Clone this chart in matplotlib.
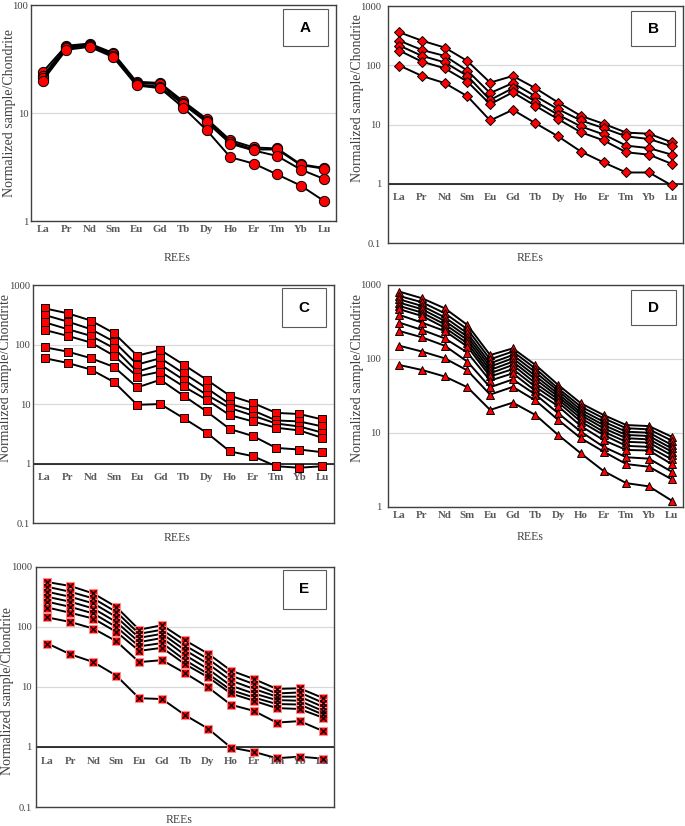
import matplotlib
matplotlib.use("Agg")
import matplotlib.pyplot as plt
from matplotlib.patches import Rectangle
from matplotlib.ticker import FixedLocator, FixedFormatter, NullLocator

plt.rcParams["font.family"] = ["Liberation Serif", "DejaVu Serif"]

REE = ["La", "Pr", "Nd", "Sm", "Eu", "Gd", "Tb", "Dy", "Ho", "Er", "Tm", "Yb", "Lu"]

# chondrite-normalised values
A_SERIES = [
    [24, 42, 44, 36, 19.5, 19, 12.8, 8.8, 5.6, 4.8, 4.7, 3.35, 3.1],
    [22, 41, 43, 35, 19, 18.5, 12.4, 8.5, 5.4, 4.6, 4.6, 3.3, 3.05],
    [21, 40, 42, 34, 18.5, 17.5, 12, 8.2, 5.2, 4.5, 4.0, 3.0, 2.45],
    [20, 38.5, 41, 33, 18, 17, 11.2, 6.9, 3.9, 3.4, 2.7, 2.13, 1.53],
]
B_SERIES = [
    [360, 260, 199, 118, 51, 66, 41, 23.5, 14, 10.3, 7.3, 7.0, 5.0],
    [260, 181, 144, 81, 34, 50, 30, 18.1, 11.7, 8.7, 6.3, 5.7, 4.3],
    [215, 144, 112, 66, 26, 41, 24.4, 14.6, 9.3, 6.8, 4.4, 4.0, 3.1],
    [177, 115, 89, 53, 22, 35, 20.6, 12.3, 7.4, 5.4, 3.4, 3.1, 2.17],
    [99, 66, 50, 30, 11.7, 17.7, 10.5, 6.3, 3.5, 2.29, 1.55, 1.55, 0.94],
]
C_SERIES = [
    [406, 335, 253, 155, 65, 81, 46, 25.6, 13.8, 10.4, 7.1, 6.8, 5.5],
    [314, 243, 181, 112, 46, 59, 33, 18.5, 10, 7.8, 5.3, 5.1, 4.2],
    [237, 181, 140, 87, 35, 46, 25.6, 14.3, 8.6, 6.4, 4.7, 4.2, 3.3],
    [176, 140, 108, 65, 29, 35, 19.8, 11.8, 6.5, 5.1, 4.0, 3.6, 2.7],
    [90, 76, 59, 42, 19, 25.6, 13.8, 7.5, 3.8, 2.9, 1.83, 1.72, 1.55],
    [59, 49, 38, 23.4, 9.7, 10, 5.8, 3.3, 1.6, 1.33, 0.9, 0.85, 0.9],
]
D_SERIES = [
    [813, 661, 484, 288, 113, 139, 83, 44.6, 25.2, 17.5, 12.8, 12.4, 8.9],
    [710, 584, 415, 252, 99, 126, 74, 40, 22.7, 15.8, 11.6, 11.2, 7.9],
    [640, 520, 366, 222, 87.5, 113, 66, 37, 20.5, 14.2, 10.4, 10.1, 6.9],
    [577, 470, 327, 200, 79, 102, 59, 33.7, 18.8, 12.8, 9.4, 9.1, 6.2],
    [520, 423, 294, 181, 71, 92, 53, 31, 17.4, 11.6, 8.5, 8.2, 5.6],
    [470, 381, 265, 163, 64, 83, 47, 28.5, 15.8, 10.4, 7.6, 7.4, 5.0],
    [394, 310, 239, 147, 58, 73, 42, 26, 14.2, 9.4, 6.7, 6.5, 4.4],
    [310, 247, 190, 122, 51, 64, 37, 23, 12.4, 8.0, 5.9, 5.8, 3.8],
    [239, 196, 151, 92, 41.5, 53, 33, 18.5, 10.4, 6.5, 4.7, 4.5, 3.0],
    [151, 126, 102, 70, 33, 42, 27.5, 15, 8.5, 5.6, 3.8, 3.5, 2.37],
    [83, 71, 58, 41.5, 20.5, 25.7, 17.5, 9.4, 5.3, 3.06, 2.1, 1.9, 1.22],
]
E_SERIES = [
    [560, 481, 362, 216, 90, 107, 60, 36, 18.8, 13.6, 9.3, 9.5, 6.6],
    [467, 385, 299, 178, 77, 90, 49, 29.5, 15.5, 11.2, 7.8, 8.1, 5.5],
    [385, 318, 247, 147, 66, 77, 41, 24.4, 12.8, 9.3, 6.9, 6.9, 4.7],
    [318, 263, 203, 121, 56, 65.5, 34, 20, 10.5, 7.8, 6.05, 5.9, 4.0],
    [263, 216, 168, 100, 47.5, 54, 28, 16.6, 8.9, 6.7, 5.2, 5.1, 3.5],
    [211, 172, 138, 83, 40, 45, 24, 14.6, 7.8, 5.9, 4.45, 4.3, 3.1],
    [144, 121, 94, 58, 26, 28, 17, 9.9, 5.06, 4.0, 2.55, 2.7, 1.86],
    [53, 35, 26, 15.5, 6.5, 6.3, 3.4, 2.03, 0.98, 0.83, 0.65, 0.69, 0.64],
]

GRAY = "#404040"
LABEL_GRAY = "#595959"
RED = "#ff0000"

fig = plt.figure(figsize=(6.85, 8.26), dpi=100)


def draw_panel(rect, series, letter, ylim, marker, inside_labels,
               box, ylab_xy, xlab_y, ypad):
    ax = fig.add_axes(rect)
    x = list(range(len(REE)))
    for s in series:
        if marker == "sx":
            ax.plot(x, s, color="black", lw=1.4, marker="s", ms=6.3,
                    mfc=RED, mec="#ff8c8c", mew=0.8, zorder=3)
            ax.plot(x, s, ls="none", marker="x", ms=4.2, color="black",
                    mew=0.9, zorder=4)
        else:
            size = {"o": 7.4, "D": 4.7, "s": 6.4, "^": 5.7}[marker]
            ax.plot(x, s, color="black", lw=1.4, marker=marker, ms=size,
                    mfc=RED, mec="black", mew=0.7, zorder=3)

    ax.set_yscale("log")
    ax.set_ylim(*ylim)
    ax.set_xlim(-0.5, len(REE) - 0.5)
    ticks = [t for t in (0.1, 1, 10, 100, 1000) if ylim[0] <= t <= ylim[1]]
    ax.yaxis.set_major_locator(FixedLocator(ticks))
    ax.yaxis.set_major_formatter(FixedFormatter([f"{t:g}" for t in ticks]))
    ax.yaxis.set_minor_locator(NullLocator())
    ax.grid(axis="y", color="#d9d9d9", lw=0.9)
    ax.set_axisbelow(True)
    ax.tick_params(axis="y", length=0, pad=ypad, labelsize=7.6, labelcolor=GRAY)

    if inside_labels:
        ax.axhline(1, color="black", lw=1.1, zorder=2)
        ax.set_xticks([])
        for i, lab in enumerate(REE):
            ax.annotate(lab, (i, 1), xytext=(0, -7), textcoords="offset points",
                        ha="center", va="top", fontsize=7.8, fontweight="bold",
                        color=LABEL_GRAY)
    else:
        ax.set_xticks(x)
        ax.set_xticklabels(REE, fontsize=7.8, fontweight="bold", color=LABEL_GRAY)
        ax.tick_params(axis="x", length=0, pad=3)

    for sp in ax.spines.values():
        sp.set_color(GRAY)
        sp.set_linewidth(1.0)

    ax.text(ylab_xy[0], ylab_xy[1], "Normalized sample/Chondrite",
            transform=ax.transAxes, rotation=90, ha="center", va="center",
            fontsize=10, color=GRAY)
    ax.text(0.48, xlab_y, "REEs", transform=ax.transAxes, ha="center",
            va="center", fontsize=8.5, color=GRAY)

    # panel letter in a small box, top right
    bx, by, bw, bh = box
    ax.add_patch(Rectangle((bx, by), bw, bh, transform=ax.transAxes,
                           fc="white", ec=LABEL_GRAY, lw=0.8, zorder=5))
    ax.text(bx + bw / 2, by + bh / 2, letter, transform=ax.transAxes,
            ha="center", va="center", fontsize=11, fontweight="bold",
            family="Liberation Sans", color="black", zorder=6)
    return ax


draw_panel([0.0453, 0.7324, 0.445, 0.2615], A_SERIES, "A", (1, 100), "o", False,
           (0.826, 0.81, 0.148, 0.171), (-0.072, 0.5), -0.171, 2)
draw_panel([0.5664, 0.7058, 0.4307, 0.2869], B_SERIES, "B", (0.1, 1000), "D", True,
           (0.824, 0.831, 0.149, 0.148), (-0.102, 0.61), -0.063, 5)
draw_panel([0.0482, 0.3668, 0.4394, 0.2881], C_SERIES, "C", (0.1, 1000), "s", True,
           (0.827, 0.824, 0.146, 0.163), (-0.093, 0.611), -0.063, 2)
draw_panel([0.5664, 0.3862, 0.4307, 0.2688], D_SERIES, "D", (1, 1000), "^", False,
           (0.824, 0.82, 0.152, 0.157), (-0.102, 0.579), -0.135, 5)
draw_panel([0.0526, 0.023, 0.435, 0.2906], E_SERIES, "E", (0.1, 1000), "sx", True,
           (0.829, 0.825, 0.144, 0.163), (-0.097, 0.485), -0.054, 3)

fig.savefig("out.png", dpi=100)
